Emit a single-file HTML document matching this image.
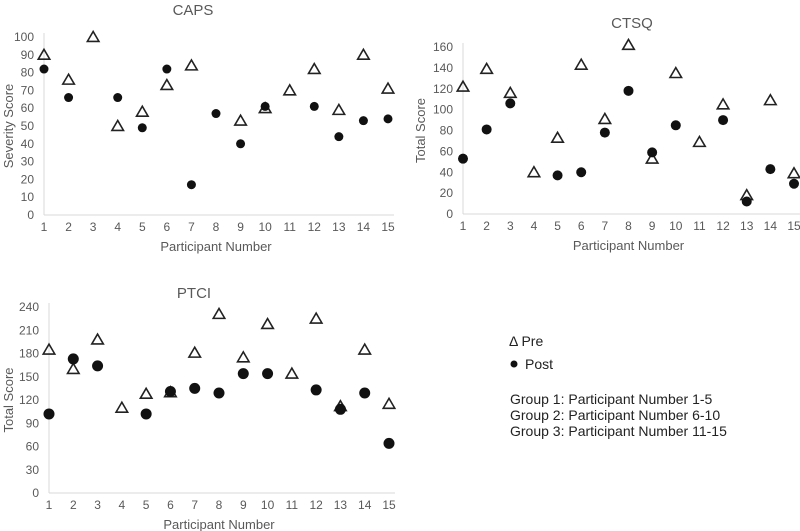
<!DOCTYPE html>
<html><head><meta charset="utf-8"><style>
body{margin:0;background:#fff;}
svg{display:block;font-family:"Liberation Sans",sans-serif;}
.tick{font-size:12px;fill:#595959;}
.ttl{font-size:15px;fill:#595959;}
.axt{font-size:13px;fill:#595959;}
</style></head><body>
<svg id="c" width="800" height="531" viewBox="0 0 800 531"></svg>
<script>
const participants=[1,2,3,4,5,6,7,8,9,10,11,12,13,14,15];
const capsPre=[90,76,100,50,58,73,84,null,53,60,70,82,59,90,71];
const capsPost=[82,66,null,66,49,82,17,57,40,61,null,61,44,53,54];
const capsTicks=[0,10,20,30,40,50,60,70,80,90,100];
const ctsqPre=[122,139,116,40,73,143,91,162,53,135,69,105,18,109,39];
const ctsqPost=[53,81,106,null,37,40,78,118,59,85,null,90,12,43,29];
const ctsqTicks=[0,20,40,60,80,100,120,140,160];
const ptciPre=[185,160,198,110,128,130,181,231,175,218,154,225,112,185,115];
const ptciPost=[102,173,164,null,102,131,135,129,154,154,null,133,108,129,64];
const ptciTicks=[0,30,60,90,120,150,180,210,240];
const NS='http://www.w3.org/2000/svg';
const svg=document.getElementById('c');
function mk(tag,attrs,parent,text){const e=document.createElementNS(NS,tag);for(const k in attrs)e.setAttribute(k,attrs[k]);if(text!==undefined)e.textContent=text;(parent||svg).appendChild(e);return e;}
function tri(g,x,y,s){return mk('polygon',{points:`${x},${y-s} ${x-s*1.05},${y+s*0.8} ${x+s*1.05},${y+s*0.8}`,fill:'none',stroke:'#222','stroke-width':1.6},g);}
function panel(cfg){
  const g=mk('g',{});
  
  
  const max=cfg.ticks[cfg.ticks.length-1];
  const X=p=>cfg.x1+(p-1)*(cfg.x15-cfg.x1)/14;
  const Y=v=>cfg.y0-v*(cfg.y0-cfg.yMax)/max;
  const ax=mk('line',{x1:cfg.x1,y1:cfg.yMax-4,x2:cfg.x1,y2:cfg.y0,stroke:'#d9d9d9','stroke-width':1},g);
  
  const bx=mk('line',{x1:cfg.x1,y1:cfg.y0,x2:cfg.x15+6,y2:cfg.y0,stroke:'#d9d9d9','stroke-width':1},g);
  
  cfg.ticks.forEach(t=>{const e=mk('text',{x:cfg.x1-10,y:Y(t)+4,'text-anchor':'end',class:'tick'},g,t);
    });
  participants.forEach(p=>{const e=mk('text',{x:X(p),y:cfg.y0+16,'text-anchor':'middle',class:'tick'},g,p);
    });
  const t=mk('text',{x:cfg.tx,y:cfg.ty,'text-anchor':'middle',class:'ttl'},g,cfg.title);
  
  const xt=mk('text',{x:(cfg.x1+cfg.x15)/2,y:cfg.y0+36,'text-anchor':'middle',class:'axt'},g,'Participant Number');
  
  const yt=mk('text',{x:0,y:0,'text-anchor':'middle',class:'axt',transform:`translate(${cfg.yx},${(cfg.y0+cfg.yMax)/2}) rotate(-90)`},g,cfg.ylab);
  
  cfg.pre.forEach((v,i)=>{if(v===null)return;const e=tri(g,X(participants[i]),Y(v),cfg.ts);
    });
  cfg.post.forEach((v,i)=>{if(v===null)return;const e=mk('circle',{cx:X(participants[i]),cy:Y(v),r:cfg.r,fill:'#111'},g);
    });
}
panel({name:'caps',title:'CAPS',ylab:'Severity Score',ticks:capsTicks,pre:capsPre,post:capsPost,x1:44,x15:388,y0:215,yMax:37,tx:193,ty:15,yx:13,ts:5.5,r:4.5});
panel({name:'ctsq',title:'CTSQ',ylab:'Total Score',ticks:ctsqTicks,pre:ctsqPre,post:ctsqPost,x1:463,x15:794,y0:214,yMax:47,tx:632,ty:28,yx:425,ts:5.5,r:5});
panel({name:'ptci',title:'PTCI',ylab:'Total Score',ticks:ptciTicks,pre:ptciPre,post:ptciPost,x1:49,x15:389,y0:493,yMax:307,tx:194,ty:298,yx:13,ts:5.5,r:5.5});
const lg=mk('g',{});

const l1=mk('text',{x:509,y:346,'font-size':'14',fill:'#222'},lg,'Δ Pre');

const lc=mk('circle',{cx:514,cy:364,r:3.5,fill:'#111'},lg);

const l2=mk('text',{x:525,y:369,'font-size':'14',fill:'#222'},lg,'Post');

['Group 1: Participant Number 1-5','Group 2: Participant Number 6-10','Group 3: Participant Number 11-15'].forEach((s,i)=>{
  const e=mk('text',{x:510,y:404+i*16,'font-size':'14',fill:'#222'},lg,s);
  });
</script>
</body></html>
